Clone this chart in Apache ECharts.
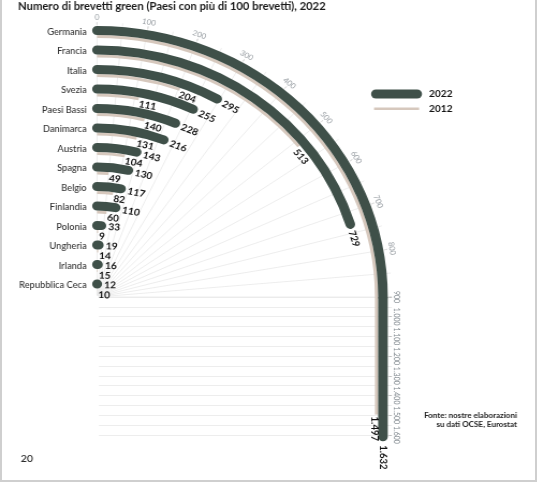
<!DOCTYPE html>
<html>
<head>
<meta charset="utf-8">
<script src="https://cdn.jsdelivr.net/npm/echarts@6/dist/echarts.min.js"></script>
<style>
  html, body { margin: 0; padding: 0; background: #ffffff; }
  #wrap { position: relative; width: 538px; height: 483px; overflow: hidden; }
  #chart { position: absolute; left: 0; top: 0; width: 501.4px; height: 483px; transform: scaleX(1.073); transform-origin: 0 0; }
  .fr { position: absolute; background: #cfcfcf; }
</style>
</head>
<body>
<div id="wrap">
  <div class="fr" style="left:0;top:0;width:2px;height:482px"></div>
  <div class="fr" style="left:535px;top:0;width:2px;height:482px"></div>
  <div class="fr" style="left:0;top:480px;width:537px;height:2px"></div>
  <div id="chart"></div>
</div>
<script>
// ---- data ----
const countries = ['Germania', 'Francia', 'Italia', 'Svezia', 'Paesi Bassi', 'Danimarca', 'Austria',
  'Spagna', 'Belgio', 'Finlandia', 'Polonia', 'Ungheria', 'Irlanda', 'Repubblica Ceca'];
const values2022 = [1632, 729, 295, 255, 228, 216, 143, 130, 117, 110, 33, 19, 16, 12];
const values2012 = [1497, 513, 204, 111, 140, 131, 104, 49, 82, 60, 9, 14, 15, 10];
const arcTicks = [0, 100, 200, 300, 400, 500, 600, 700, 800];
const ARC_MAX = 900;          // value reached at the end of the quarter circle
const STRAIGHT_MAX = 1600;    // end of the straight vertical part

// ---- styles ----
const DARK = '#3f5049';
const BEIGE = '#d6c8bd';
const GRID = '#e9e9e9';
const TICK = '#7d858b';
const FONT = 'Lato, "Noto Sans", sans-serif';

const CX = 90.4, CY = 297;
const R0 = 1.75, BAND = 19.5;
const R1 = R0 + BAND * countries.length;
const PX_PER_UNIT = 0.197;

function fmt(v) {
  if (v >= 1000) return Math.floor(v / 1000) + '.' + String(v % 1000).padStart(3, '0');
  return String(v);
}

const chart = echarts.init(document.getElementById('chart'), null, { renderer: 'canvas' });

const option = {
  animation: false,
  backgroundColor: 'transparent',
  title: {
    text: 'Numero di brevetti green (Paesi con più di 100 brevetti), 2022',
    left: 16.8, top: 1.5, padding: 0,
    textStyle: { fontFamily: FONT, fontSize: 10.5, fontWeight: 'bold', color: '#1b1b1b' }
  },
  legend: [
    {
      data: ['2022'], left: 345.8, top: 89, padding: 0, selectedMode: false,
      itemWidth: 47.5, itemHeight: 9,
      icon: 'path://M4.5,0H43A4.5,4.5,0,0,1,43,9H4.5A4.5,4.5,0,0,1,4.5,0Z',
      textStyle: { fontFamily: FONT, fontSize: 9.5, fontWeight: 'bold', color: '#111', padding: [0, 0, 0, 1.5] }
    },
    {
      data: ['2012'], left: 348.6, top: 103.75, padding: 0, selectedMode: false,
      itemWidth: 42, itemHeight: 2.5, icon: 'rect',
      textStyle: { fontFamily: FONT, fontSize: 9.5, fontWeight: 'bold', color: '#111', padding: [0, 0, 0, 4.2] }
    }
  ],
  polar: [
    { center: [CX, CY], radius: [R0, R1] },
    { center: [CX, CY], radius: [0, 279] }
  ],
  angleAxis: [
    {
      polarIndex: 0, type: 'value', min: 0, max: ARC_MAX, interval: 100,
      startAngle: 90, endAngle: 0, clockwise: true,
      axisLine: { show: false },
      axisLabel: { show: false },
      axisTick: { show: true, inside: true, length: 2.5, lineStyle: { color: '#b5b5b5', width: 0.8 } },
      minorTick: { show: false, splitNumber: 2 },
      splitLine: { show: true, lineStyle: { color: GRID, width: 0.8 } },
      minorSplitLine: { show: true, lineStyle: { color: GRID, width: 0.8 } }
    },
    {
      polarIndex: 1, type: 'value', min: 0, max: ARC_MAX,
      startAngle: 90, endAngle: 0, clockwise: true, show: false
    }
  ],
  radiusAxis: [
    {
      polarIndex: 0, type: 'category', data: countries, inverse: true,
      axisLine: { show: false }, axisTick: { show: false }, splitLine: { show: false },
      axisLabel: { interval: 0, margin: 9.6, fontFamily: FONT, fontSize: 8.7, color: '#333', fontWeight: 500 }
    },
    { polarIndex: 1, type: 'value', min: 0, max: 1, show: false }
  ],
  grid: {
    left: CX + R0, top: CY, width: R1 - R0, height: (STRAIGHT_MAX - ARC_MAX) * PX_PER_UNIT,
    containLabel: false, outerBoundsMode: 'none'
  },
  xAxis: { type: 'category', data: countries, inverse: true, show: false },
  yAxis: {
    type: 'value', inverse: true, min: ARC_MAX, max: STRAIGHT_MAX, interval: 100, position: 'right',
    axisLine: { show: false },
    axisTick: { show: true, inside: true, length: 2.5, lineStyle: { color: '#b5b5b5', width: 0.8 } },
    minorTick: { show: false, splitNumber: 2 },
    splitLine: { show: true, lineStyle: { color: GRID, width: 0.8 } },
    minorSplitLine: { show: true, lineStyle: { color: GRID, width: 0.8 } },
    axisLabel: { rotate: -90, margin: 1, fontFamily: FONT, fontSize: 7, color: TICK, formatter: v => fmt(v) }
  },
  series: [
    {
      name: '2012', type: 'bar', coordinateSystem: 'polar', polarIndex: 0,
      barWidth: 3, barGap: '0%', silent: true,
      itemStyle: { color: BEIGE },
      data: values2012.map(v => ({ value: Math.min(v, ARC_MAX), label: { show: v < ARC_MAX } })),
      label: {
        show: true, position: 'end', distance: 1, offset: [0, 5],
        fontFamily: FONT, fontSize: 9.5, fontWeight: 'bold', color: '#111',
        formatter: p => fmt(values2012[p.dataIndex])
      }
    },
    {
      name: '2022', type: 'bar', coordinateSystem: 'polar', polarIndex: 0,
      barWidth: 9, barGap: '0%', roundCap: true, silent: true,
      itemStyle: { color: DARK },
      data: values2022.map(v => ({ value: Math.min(v, ARC_MAX), label: { show: v < ARC_MAX } })),
      label: {
        show: true, position: 'end', distance: 2, offset: [0, 1],
        fontFamily: FONT, fontSize: 9.5, fontWeight: 'bold', color: '#111',
        formatter: p => fmt(values2022[p.dataIndex])
      }
    },
    {
      name: '2012', type: 'bar', stack: 's2012', barWidth: 3, barGap: '0%', clip: false, silent: true,
      itemStyle: { color: 'transparent' },
      data: values2012.map(v => (v > ARC_MAX ? ARC_MAX : null))
    },
    {
      name: '2012', type: 'bar', stack: 's2012', barWidth: 3, barGap: '0%', clip: false, silent: true,
      itemStyle: { color: BEIGE },
      data: values2012.map(v => (v > ARC_MAX ? v - ARC_MAX : null)),
      label: {
        show: true, position: 'bottom', rotate: -90, align: 'left', verticalAlign: 'middle',
        distance: 2, offset: [0, 1.5],
        fontFamily: FONT, fontSize: 9.5, fontWeight: 'bold', color: '#111',
        formatter: p => fmt(values2012[p.dataIndex])
      }
    },
    {
      name: '2022', type: 'bar', stack: 's2022', barWidth: 9, barGap: '0%', clip: false, silent: true,
      itemStyle: { color: 'transparent' },
      data: values2022.map(v => (v > ARC_MAX ? ARC_MAX : null))
    },
    {
      name: '2022', type: 'bar', stack: 's2022', barWidth: 9, barGap: '0%', clip: false, silent: true,
      itemStyle: { color: DARK, borderRadius: [0, 0, 4.5, 4.5] },
      data: values2022.map(v => (v > ARC_MAX ? v - ARC_MAX : null)),
      label: {
        show: true, position: 'bottom', rotate: -90, align: 'left', verticalAlign: 'middle',
        distance: 4, offset: [0, 0],
        fontFamily: FONT, fontSize: 9.5, fontWeight: 'bold', color: '#111',
        formatter: p => fmt(values2022[p.dataIndex])
      }
    },
    {
      name: 'ticks', type: 'scatter', coordinateSystem: 'polar', polarIndex: 1,
      symbolSize: 0, silent: true,
      data: arcTicks.map(v => ({ value: [1, v], label: { rotate: -v * 90 / ARC_MAX } })),
      label: {
        show: true, position: 'inside', fontFamily: FONT, fontSize: 7.5, color: TICK,
        formatter: p => fmt(p.value[1])
      }
    }
  ],
  graphic: [
    {
      type: 'text', left: 19.3, top: 454,
      style: { text: '20', fontFamily: FONT, fontSize: 10, fontWeight: 500, fill: '#222' }
    },
    {
      type: 'text', x: 481.8, y: 420.5,
      style: {
        text: 'Fonte: nostre elaborazioni\nsu dati OCSE, Eurostat', align: 'right', verticalAlign: 'middle',
        fontFamily: FONT, fontSize: 7.5, fontWeight: 'bold', fill: '#222', lineHeight: 9
      }
    }
  ]
};
chart.setOption(option);
</script>
</body>
</html>
